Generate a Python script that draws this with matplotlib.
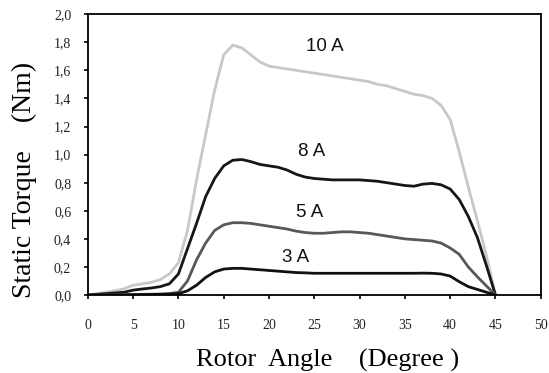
import matplotlib
matplotlib.use("Agg")
import matplotlib.pyplot as plt

# Static torque vs rotor angle for several phase currents
angle = list(range(0, 46))

torque_10a = [0.0, 0.01, 0.02, 0.03, 0.045, 0.07, 0.08, 0.09, 0.11, 0.15,
              0.23, 0.46, 0.82, 1.14, 1.46, 1.71, 1.78, 1.76, 1.71, 1.66,
              1.63, 1.62, 1.61, 1.60, 1.59, 1.58, 1.57, 1.56, 1.55, 1.54,
              1.53, 1.52, 1.50, 1.49, 1.47, 1.45, 1.43, 1.42, 1.40, 1.35,
              1.25, 1.02, 0.77, 0.53, 0.28, 0.0]
torque_8a = [0.0, 0.005, 0.01, 0.015, 0.02, 0.035, 0.043, 0.05, 0.06, 0.08,
             0.15, 0.33, 0.51, 0.70, 0.83, 0.92, 0.96, 0.965, 0.95, 0.93,
             0.92, 0.91, 0.89, 0.86, 0.84, 0.83, 0.825, 0.82, 0.82, 0.82,
             0.82, 0.815, 0.81, 0.80, 0.79, 0.78, 0.775, 0.79, 0.795, 0.785,
             0.755, 0.68, 0.56, 0.41, 0.21, 0.0]
torque_5a = [0.0, 0.0, 0.0, 0.002, 0.003, 0.004, 0.005, 0.006, 0.007, 0.01,
             0.02, 0.10, 0.25, 0.37, 0.46, 0.50, 0.515, 0.515, 0.51, 0.50,
             0.49, 0.48, 0.47, 0.455, 0.445, 0.44, 0.44, 0.445, 0.45, 0.45,
             0.445, 0.44, 0.43, 0.42, 0.41, 0.40, 0.395, 0.39, 0.385, 0.37,
             0.335, 0.29, 0.20, 0.13, 0.065, 0.0]
torque_3a = [0.0, 0.0, 0.0, 0.0, 0.001, 0.002, 0.003, 0.004, 0.005, 0.007,
             0.01, 0.03, 0.07, 0.125, 0.165, 0.185, 0.19, 0.19, 0.185, 0.18,
             0.175, 0.17, 0.165, 0.16, 0.158, 0.155, 0.155, 0.155, 0.155, 0.155,
             0.155, 0.155, 0.155, 0.155, 0.155, 0.155, 0.155, 0.156, 0.155, 0.15,
             0.135, 0.095, 0.06, 0.04, 0.02, 0.0]

series = [("10 A", torque_10a, "#c8c8c8", (26.2, 1.77)),
          ("8 A", torque_8a, "#161616", (24.7, 1.02)),
          ("5 A", torque_5a, "#585858", (24.5, 0.59)),
          ("3 A", torque_3a, "#111111", (22.9, 0.27))]

x_ticks = list(range(0, 51, 5))
y_ticks = [0.0, 0.2, 0.4, 0.6, 0.8, 1.0, 1.2, 1.4, 1.6, 1.8, 2.0]

fig = plt.figure(figsize=(5.49, 3.73), dpi=100)
ax = fig.add_axes([0.160, 0.209, 0.825, 0.753])

for label, vals, color, pos in series:
    ax.plot(angle, vals, color=color, lw=2.0, solid_joinstyle="round",
            solid_capstyle="round")
    ax.text(pos[0], pos[1], label, ha="center", va="center",
            fontsize=13.5, family="Liberation Sans", color="#111111")

ax.set_xlim(0, 50)
ax.set_ylim(0, 2.0)
ax.set_xticks(x_ticks)
ax.set_yticks(y_ticks)
ax.set_yticklabels([f"{v:.1f}".replace(".", ",") for v in y_ticks])
ax.tick_params(direction="out", length=3, width=1.2, labelsize=10,
               labelcolor="#222222", top=False, right=False)
ax.tick_params(axis="x", pad=14)
ax.tick_params(axis="y", pad=9)
for lbl in ax.get_xticklabels() + ax.get_yticklabels():
    lbl.set_family("Liberation Serif")
for sp in ax.spines.values():
    sp.set_linewidth(1.3)

ax.set_xlabel("Rotor  Angle    (Degree )", family="Liberation Serif",
              fontsize=19)
ax.set_ylabel("Static Torque    (Nm)", family="Liberation Serif",
              fontsize=20)
ax.xaxis.set_label_coords(0.53, -0.19)
ax.yaxis.set_label_coords(-0.113, 0.41)

fig.savefig("out.png", dpi=100)
